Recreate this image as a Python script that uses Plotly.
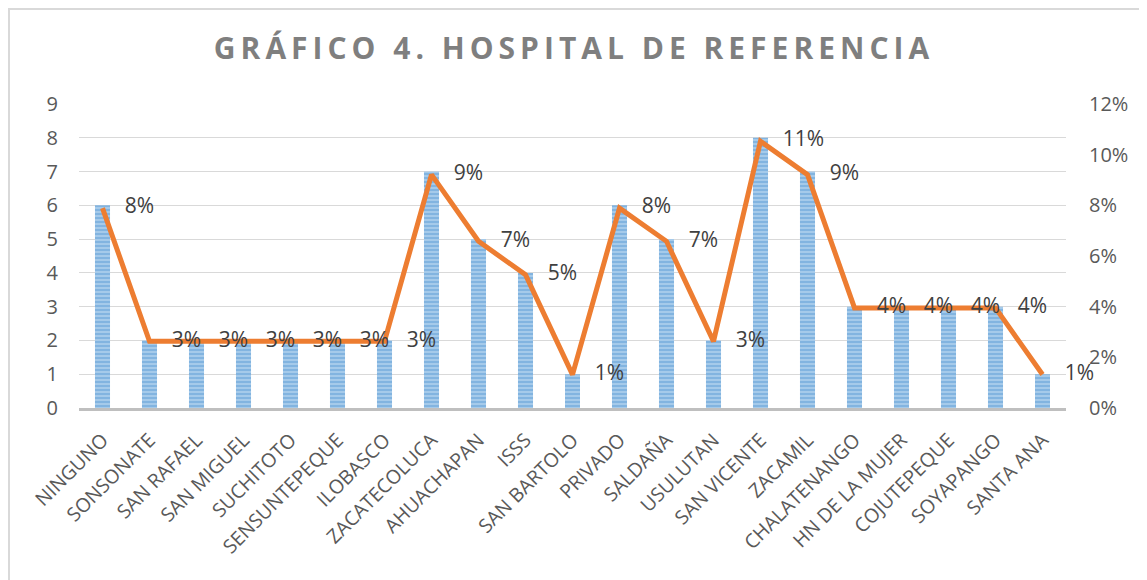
import plotly.graph_objects as go

categories = ["NINGUNO", "SONSONATE", "SAN RAFAEL", "SAN MIGUEL", "SUCHITOTO",
              "SENSUNTEPEQUE", "ILOBASCO", "ZACATECOLUCA", "AHUACHAPAN", "ISSS",
              "SAN BARTOLO", "PRIVADO", "SALDAÑA", "USULUTAN", "SAN VICENTE",
              "ZACAMIL", "CHALATENANGO", "HN DE LA MUJER", "COJUTEPEQUE",
              "SOYAPANGO", "SANTA ANA"]
counts = [6, 2, 2, 2, 2, 2, 2, 7, 5, 4, 1, 6, 5, 2, 8, 7, 3, 3, 3, 3, 1]
percents = [0.0789, 0.0263, 0.0263, 0.0263, 0.0263, 0.0263, 0.0263, 0.0921,
            0.0658, 0.0526, 0.0132, 0.0789, 0.0658, 0.0263, 0.1053, 0.0921,
            0.0395, 0.0395, 0.0395, 0.0395, 0.0132]
pct_labels = ["8%", "3%", "3%", "3%", "3%", "3%", "3%", "9%", "7%", "5%", "1%",
              "8%", "7%", "3%", "11%", "9%", "4%", "4%", "4%", "4%", "1%"]

# page body has an 8px margin; figure sized to fit the window
W, H = 1139, 572
L, R, T, B = 71, 1058, 96, 400

FONT = "Open Sans"

fig = go.Figure()
fig.add_trace(go.Bar(
    x=categories, y=counts, name="Frecuencia",
    marker=dict(color="#5B9BD5", line=dict(width=0),
                pattern=dict(shape="-", fgcolor="#5B9BD5", bgcolor="#A9CCEB",
                             size=4, solidity=0.55)),
    width=0.32, yaxis="y",
))
fig.add_trace(go.Scatter(
    x=categories, y=percents, name="Porcentaje", yaxis="y2",
    mode="lines+markers+text", text=pct_labels, textposition="middle right",
    textfont=dict(family=FONT, size=21, color="#404040"),
    line=dict(color="#ED7D31", width=5),
    marker=dict(size=34, color="rgba(0,0,0,0)"),
    cliponaxis=False,
))

fig.update_layout(
    width=W, height=H,
    margin=dict(l=L, r=W - R, t=T, b=H - B),
    paper_bgcolor="white", plot_bgcolor="white",
    showlegend=False,
    title=dict(text="<b>GRÁFICO 4. HOSPITAL DE REFERENCIA</b>",
               x=(574 - 8) / W, xanchor="center", y=1 - 40 / H, yanchor="middle",
               font=dict(family=FONT, size=30, color="#7F7F7F")),
    xaxis=dict(tickangle=-45, tickfont=dict(family=FONT, size=19.5, color="#595959"),
               showgrid=False, showline=True, linecolor="#BFBFBF", linewidth=3,
               ticks="", ticklabelstandoff=10, range=[-0.5, 20.5]),
    yaxis=dict(range=[0, 9], dtick=1, showgrid=True, gridcolor="#D9D9D9", gridwidth=1,
               zeroline=False, ticks="", ticklabelstandoff=20,
               tickfont=dict(family=FONT, size=20, color="#595959")),
    yaxis2=dict(range=[0, 0.12], dtick=0.02, tickformat=".0%", overlaying="y",
                side="right", showgrid=False, zeroline=False, ticks="",
                ticklabelstandoff=22,
                tickfont=dict(family=FONT, size=20, color="#595959")),
    shapes=[dict(type="rect", xref="paper", yref="paper",
                 x0=(1 - L) / (R - L), x1=(1138 - L) / (R - L),
                 y0=(B - 600) / (B - T), y1=(B - 1) / (B - T),
                 line=dict(color="#D9D9D9", width=2), layer="below")],
)

post = """
function spaceTitle(){
  var t = document.querySelectorAll('.gtitle');
  t.forEach(function(el){ el.style.letterSpacing = '5px'; });
}
spaceTitle();
var gd = document.getElementsByClassName('plotly-graph-div')[0];
if (gd && gd.on) { gd.on('plotly_afterplot', spaceTitle); }
"""

fig.write_html("out.html", post_script=post)
